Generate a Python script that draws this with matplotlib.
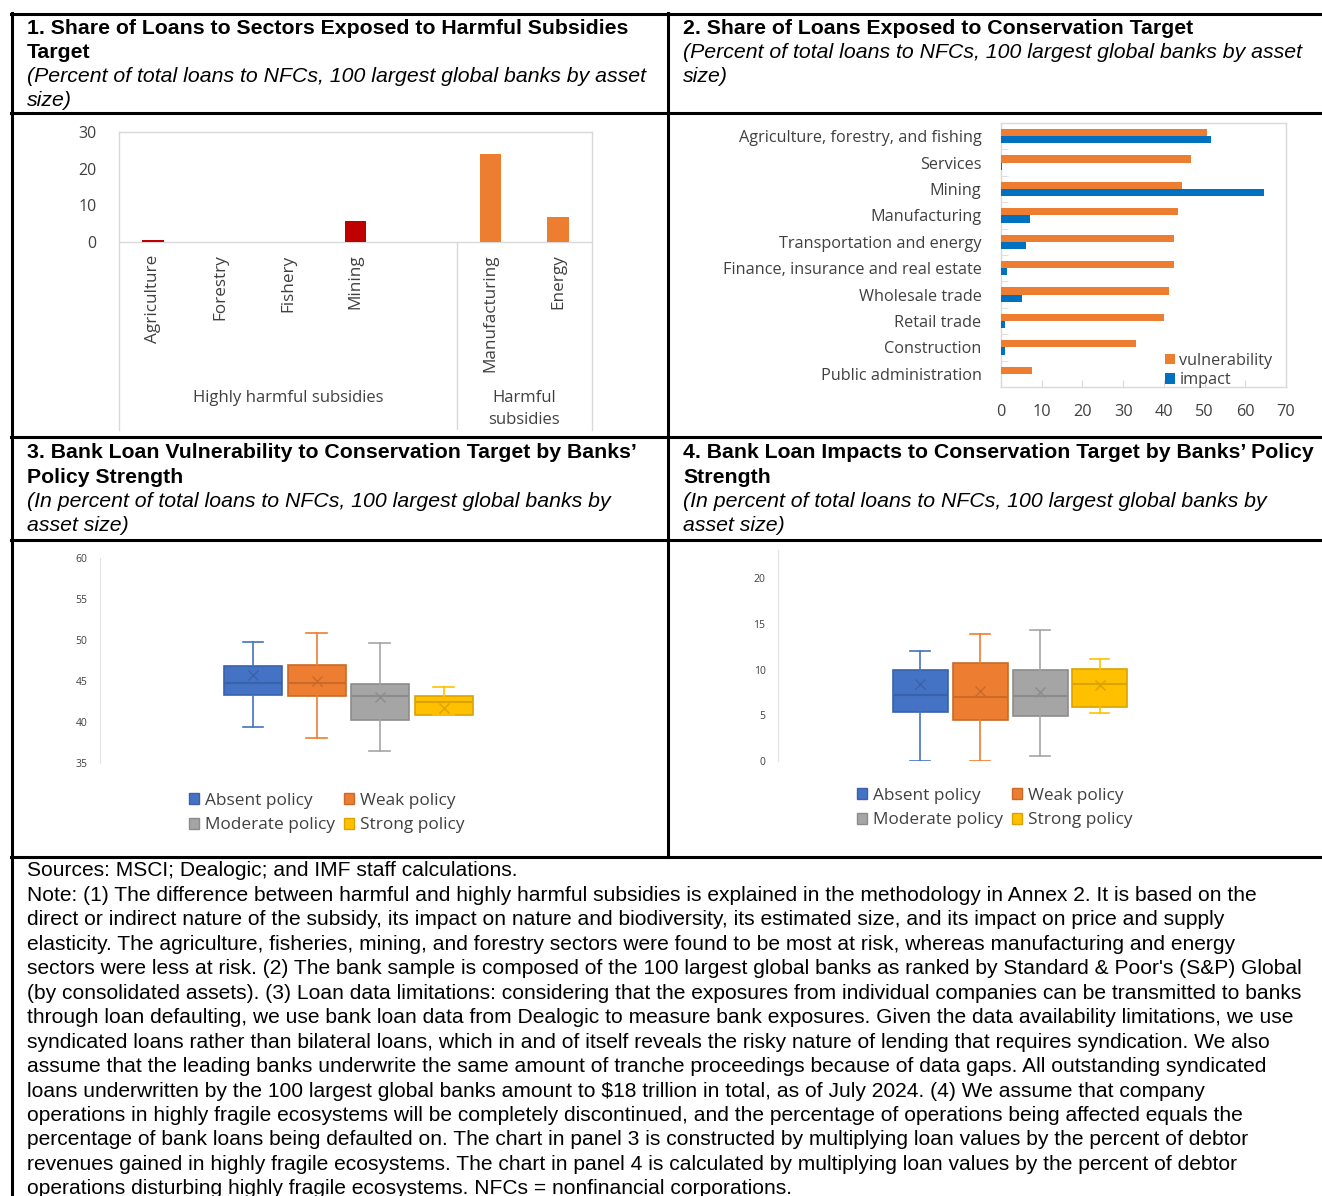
import matplotlib
matplotlib.use("Agg")
import matplotlib.pyplot as plt
from matplotlib.lines import Line2D
from matplotlib.patches import Patch
import numpy as np

W, H = 1322, 1196

# ---- data ----
p1_cats = ["Agriculture", "Forestry", "Fishery", "Mining", "", "Manufacturing", "Energy"]
p1_vals = [0.5, 0.0, 0.0, 5.8, 0.0, 24.0, 6.8]
p1_group = ["high", "high", "high", "high", "high", "harm", "harm"]

p2_cats = ["Agriculture, forestry, and fishing", "Services", "Mining", "Manufacturing",
           "Transportation and energy", "Finance, insurance and real estate",
           "Wholesale trade", "Retail trade", "Construction", "Public administration"]
p2_vuln = [50.5, 46.7, 44.4, 43.4, 42.6, 42.6, 41.3, 40.0, 33.1, 7.7]
p2_impact = [51.7, 0.2, 64.5, 7.2, 6.2, 1.4, 5.2, 1.0, 1.0, 0.0]

policies = ["Absent policy", "Weak policy", "Moderate policy", "Strong policy"]
# panel 3: vulnerability (whisker low, q1, median, q3, whisker high, mean)
p3_lo = [39.4, 38.1, 36.5, 40.9]
p3_q1 = [43.3, 43.2, 40.3, 40.9]
p3_med = [44.7, 44.7, 43.2, 42.4]
p3_q3 = [46.8, 46.9, 44.6, 43.2]
p3_hi = [49.8, 50.8, 49.6, 44.3]
p3_mean = [45.7, 45.0, 43.0, 41.7]
# panel 4: impacts
p4_lo = [0.0, 0.0, 0.6, 5.2]
p4_q1 = [5.4, 4.5, 4.9, 5.9]
p4_med = [7.2, 7.0, 7.1, 8.4]
p4_q3 = [10.0, 10.7, 10.0, 10.1]
p4_hi = [12.0, 13.9, 14.3, 11.2]
p4_mean = [8.4, 7.6, 7.5, 8.3]

box_colors = ["#4472C4", "#ED7D31", "#A5A5A5", "#FFC000"]
box_edges = ["#3A62AA", "#C9692A", "#8C8C8C", "#D9A300"]

fig = plt.figure(figsize=(W / 100, H / 100), dpi=100)
chart_font = ["Open Sans", "DejaVu Sans"]
title_font = ["Liberation Sans", "DejaVu Sans"]


def fx(x):
    return x / W


def fy(y):
    return 1 - y / H


def add_ax(x0, y0, x1, y1):
    # pixel box (top-left / bottom-right) -> axes
    return fig.add_axes([fx(x0), fy(y1), (x1 - x0) / W, (y1 - y0) / H])


def hline(y, x0, x1, lw=2.2):
    fig.add_artist(Line2D([fx(x0), fx(x1)], [fy(y), fy(y)], color="black", lw=lw))


def vline(x, y0, y1, lw=2.2):
    fig.add_artist(Line2D([fx(x), fx(x)], [fy(y0), fy(y1)], color="black", lw=lw))


# ---- table grid ----
for yy in [14, 113, 437, 540, 857]:
    hline(yy, 11, W)
vline(12, 13, H)
vline(668, 13, 857)

# ---- panel titles ----
def panel_title(x, y, lines):
    for i, (txt, style) in enumerate(lines):
        fig.text(fx(x), fy(y + i * 24.3), txt, ha="left", va="center",
                 fontsize=15.3, family=title_font,
                 fontweight="bold" if style == "b" else "normal",
                 fontstyle="italic" if style == "i" else "normal")


panel_title(27, 28, [("1. Share of Loans to Sectors Exposed to Harmful Subsidies", "b"),
                     ("Target", "b"),
                     ("(Percent of total loans to NFCs, 100 largest global banks by asset", "i"),
                     ("size)", "i")])
panel_title(683, 28, [("2. Share of Loans Exposed to Conservation Target", "b"),
                      ("(Percent of total loans to NFCs, 100 largest global banks by asset", "i"),
                      ("size)", "i")])
panel_title(27, 453, [("3. Bank Loan Vulnerability to Conservation Target by Banks\u2019", "b"),
                      ("Policy Strength", "b"),
                      ("(In percent of total loans to NFCs, 100 largest global banks by", "i"),
                      ("asset size)", "i")])
panel_title(683, 453, [("4. Bank Loan Impacts to Conservation Target by Banks\u2019 Policy", "b"),
                       ("Strength", "b"),
                       ("(In percent of total loans to NFCs, 100 largest global banks by", "i"),
                       ("asset size)", "i")])

grid_gray = "#D9D9D9"
txt_col = "#404040"

# ---- panel 1 ----
ax1 = add_ax(119, 132, 592, 430)
pxu = (242 - 132) / 30.0
ax1.set_ylim(-(430 - 242) / pxu, 30)
ax1.set_xlim(-0.5, len(p1_cats) - 0.5)
xs = np.arange(len(p1_cats))
cols1 = ["#C00000" if g == "high" else "#ED7D31" for g in p1_group]
ax1.bar(xs, p1_vals, width=0.32, color=cols1, zorder=3)
ax1.set_yticks([0, 10, 20, 30])
ax1.set_yticklabels(["0", "10", "20", "30"], fontsize=11.5, family=chart_font, color=txt_col)
ax1.tick_params(axis="y", length=0, pad=16)
ax1.set_xticks([])
ax1.spines["bottom"].set_visible(False)
for s in ["left", "right", "top"]:
    ax1.spines[s].set_color(grid_gray)
    ax1.spines[s].set_linewidth(1)
ax1.axhline(0, color=grid_gray, lw=1, zorder=2)
ax1.plot([4.5, 4.5], [ax1.get_ylim()[0], 0], color=grid_gray, lw=1)
for x, lab in zip(xs, p1_cats):
    if lab:
        ax1.text(x, -3.4, lab, rotation=90, ha="center", va="top", fontsize=12.3,
                 family=chart_font, color=txt_col)
ax1.text(2.0, -42.6, "Highly harmful subsidies", ha="center", va="center", fontsize=12,
         family=chart_font, color=txt_col)
ax1.text(5.5, -45.6, "Harmful\nsubsidies", ha="center", va="center", fontsize=12,
         family=chart_font, color=txt_col, linespacing=1.55)

# ---- panel 2 ----
ax2 = add_ax(1001, 123, 1286, 387)
ys = np.arange(len(p2_cats))
bh = 0.27
ax2.barh(ys - bh / 2, p2_vuln, height=bh, color="#ED7D31", label="vulnerability", zorder=3)
ax2.barh(ys + bh / 2, p2_impact, height=bh, color="#0070C0", label="impact", zorder=3)
ax2.set_ylim(len(p2_cats) - 0.5, -0.5)
ax2.set_xlim(0, 70)
ax2.set_yticks(ys)
ax2.set_yticklabels(p2_cats, fontsize=11.7, family=chart_font, color=txt_col)
ax2.set_yticks(np.arange(0.5, len(p2_cats) - 1, 1), minor=True)
ax2.tick_params(axis="y", which="major", length=0, pad=14)
ax2.tick_params(axis="y", which="minor", length=5, direction="in", color=grid_gray)
ax2.set_xticks(np.arange(0, 71, 10))
ax2.tick_params(axis="x", length=5, direction="in", color=grid_gray, pad=12,
                labelsize=11.7, labelcolor=txt_col)
for lab in ax2.get_xticklabels():
    lab.set_family(chart_font)
for s in ax2.spines.values():
    s.set_color(grid_gray)
    s.set_linewidth(1)
ax2.legend(loc="lower right", bbox_to_anchor=(0.99, -0.045), frameon=False,
           prop={"family": chart_font, "size": 11.7}, handlelength=0.6, handleheight=0.6,
           handletextpad=0.3, labelspacing=0.2, labelcolor=txt_col, borderaxespad=0.25)


# ---- box panels ----
def box_panel(x0, y0, x1, y1, ylim, yticks, lo, q1, med, q3, hi, mean, centers, width,
              leg_xy):
    ax = add_ax(x0, y0, x1, y1)
    for i in range(len(policies)):
        st = dict(med=med[i], q1=q1[i], q3=q3[i], whislo=lo[i], whishi=hi[i],
                  mean=mean[i], label=policies[i])
        ax.bxp([st], positions=[centers[i]], widths=width, patch_artist=True,
               showmeans=True, showfliers=False,
               boxprops=dict(facecolor=box_colors[i], edgecolor=box_edges[i], lw=1.2),
               whiskerprops=dict(color=box_colors[i], lw=1.2),
               capprops=dict(color=box_colors[i], lw=1.2),
               capwidths=width * 0.35,
               medianprops=dict(color=box_edges[i], lw=1.5),
               meanprops=dict(marker="x", markeredgecolor=box_edges[i], markersize=7,
                              markeredgewidth=1.0))
    ax.set_ylim(*ylim)
    ax.set_xlim(x0, x1)
    ax.set_yticks(yticks)
    ax.set_yticklabels([str(t) for t in yticks], fontsize=7.5, family=chart_font,
                       color=txt_col)
    ax.tick_params(axis="y", length=0, pad=9)
    ax.set_xticks([])
    for s in ["top", "right", "bottom"]:
        ax.spines[s].set_visible(False)
    ax.spines["left"].set_color("#E3E3E3")
    order = [0, 2, 1, 3]  # so rows read Absent/Weak, Moderate/Strong
    handles = [Patch(facecolor=box_colors[i], edgecolor=box_edges[i], label=policies[i])
               for i in order]
    ax.legend(handles=handles, ncol=2, loc="center",
              bbox_to_anchor=(fx(leg_xy[0]), fy(leg_xy[1])),
              bbox_transform=fig.transFigure, frameon=False,
              prop={"family": chart_font, "size": 12.4}, handlelength=0.6, handleheight=0.6,
              handletextpad=0.35, columnspacing=0.5, labelspacing=0.5, labelcolor=txt_col)
    return ax


box_panel(100, 558, 596, 763, (35, 60), [35, 40, 45, 50, 55, 60],
          p3_lo, p3_q1, p3_med, p3_q3, p3_hi, p3_mean,
          [253, 316.5, 379.5, 443.5], 58, (327, 813))
box_panel(778, 550, 1242, 761, (0, 20 * (761 - 550) / (761 - 578)), [0, 5, 10, 15, 20],
          p4_lo, p4_q1, p4_med, p4_q3, p4_hi, p4_mean,
          [920, 980, 1040, 1099.5], 55, (995, 808))

# ---- notes ----
note_lines = [
    "Sources: MSCI; Dealogic; and IMF staff calculations.",
    "Note: (1) The difference between harmful and highly harmful subsidies is explained in the methodology in Annex 2. It is based on the",
    "direct or indirect nature of the subsidy, its impact on nature and biodiversity, its estimated size, and its impact on price and supply",
    "elasticity. The agriculture, fisheries, mining, and forestry sectors were found to be most at risk, whereas manufacturing and energy",
    "sectors were less at risk. (2) The bank sample is composed of the 100 largest global banks as ranked by Standard & Poor's (S&P) Global",
    "(by consolidated assets). (3) Loan data limitations: considering that the exposures from individual companies can be transmitted to banks",
    "through loan defaulting, we use bank loan data from Dealogic to measure bank exposures. Given the data availability limitations, we use",
    "syndicated loans rather than bilateral loans, which in and of itself reveals the risky nature of lending that requires syndication. We also",
    "assume that the leading banks underwrite the same amount of tranche proceedings because of data gaps. All outstanding syndicated",
    "loans underwritten by the 100 largest global banks amount to $18 trillion in total, as of July 2024. (4) We assume that company",
    "operations in highly fragile ecosystems will be completely discontinued, and the percentage of operations being affected equals the",
    "percentage of bank loans being defaulted on. The chart in panel 3 is constructed by multiplying loan values by the percent of debtor",
    "revenues gained in highly fragile ecosystems. The chart in panel 4 is calculated by multiplying loan values by the percent of debtor",
    "operations disturbing highly fragile ecosystems. NFCs = nonfinancial corporations.",
]
for i, line in enumerate(note_lines):
    fig.text(fx(27), fy(871 + i * 24.45), line, ha="left", va="center", fontsize=15.1,
             family=title_font, color="black")

fig.savefig("out.png", dpi=100)
